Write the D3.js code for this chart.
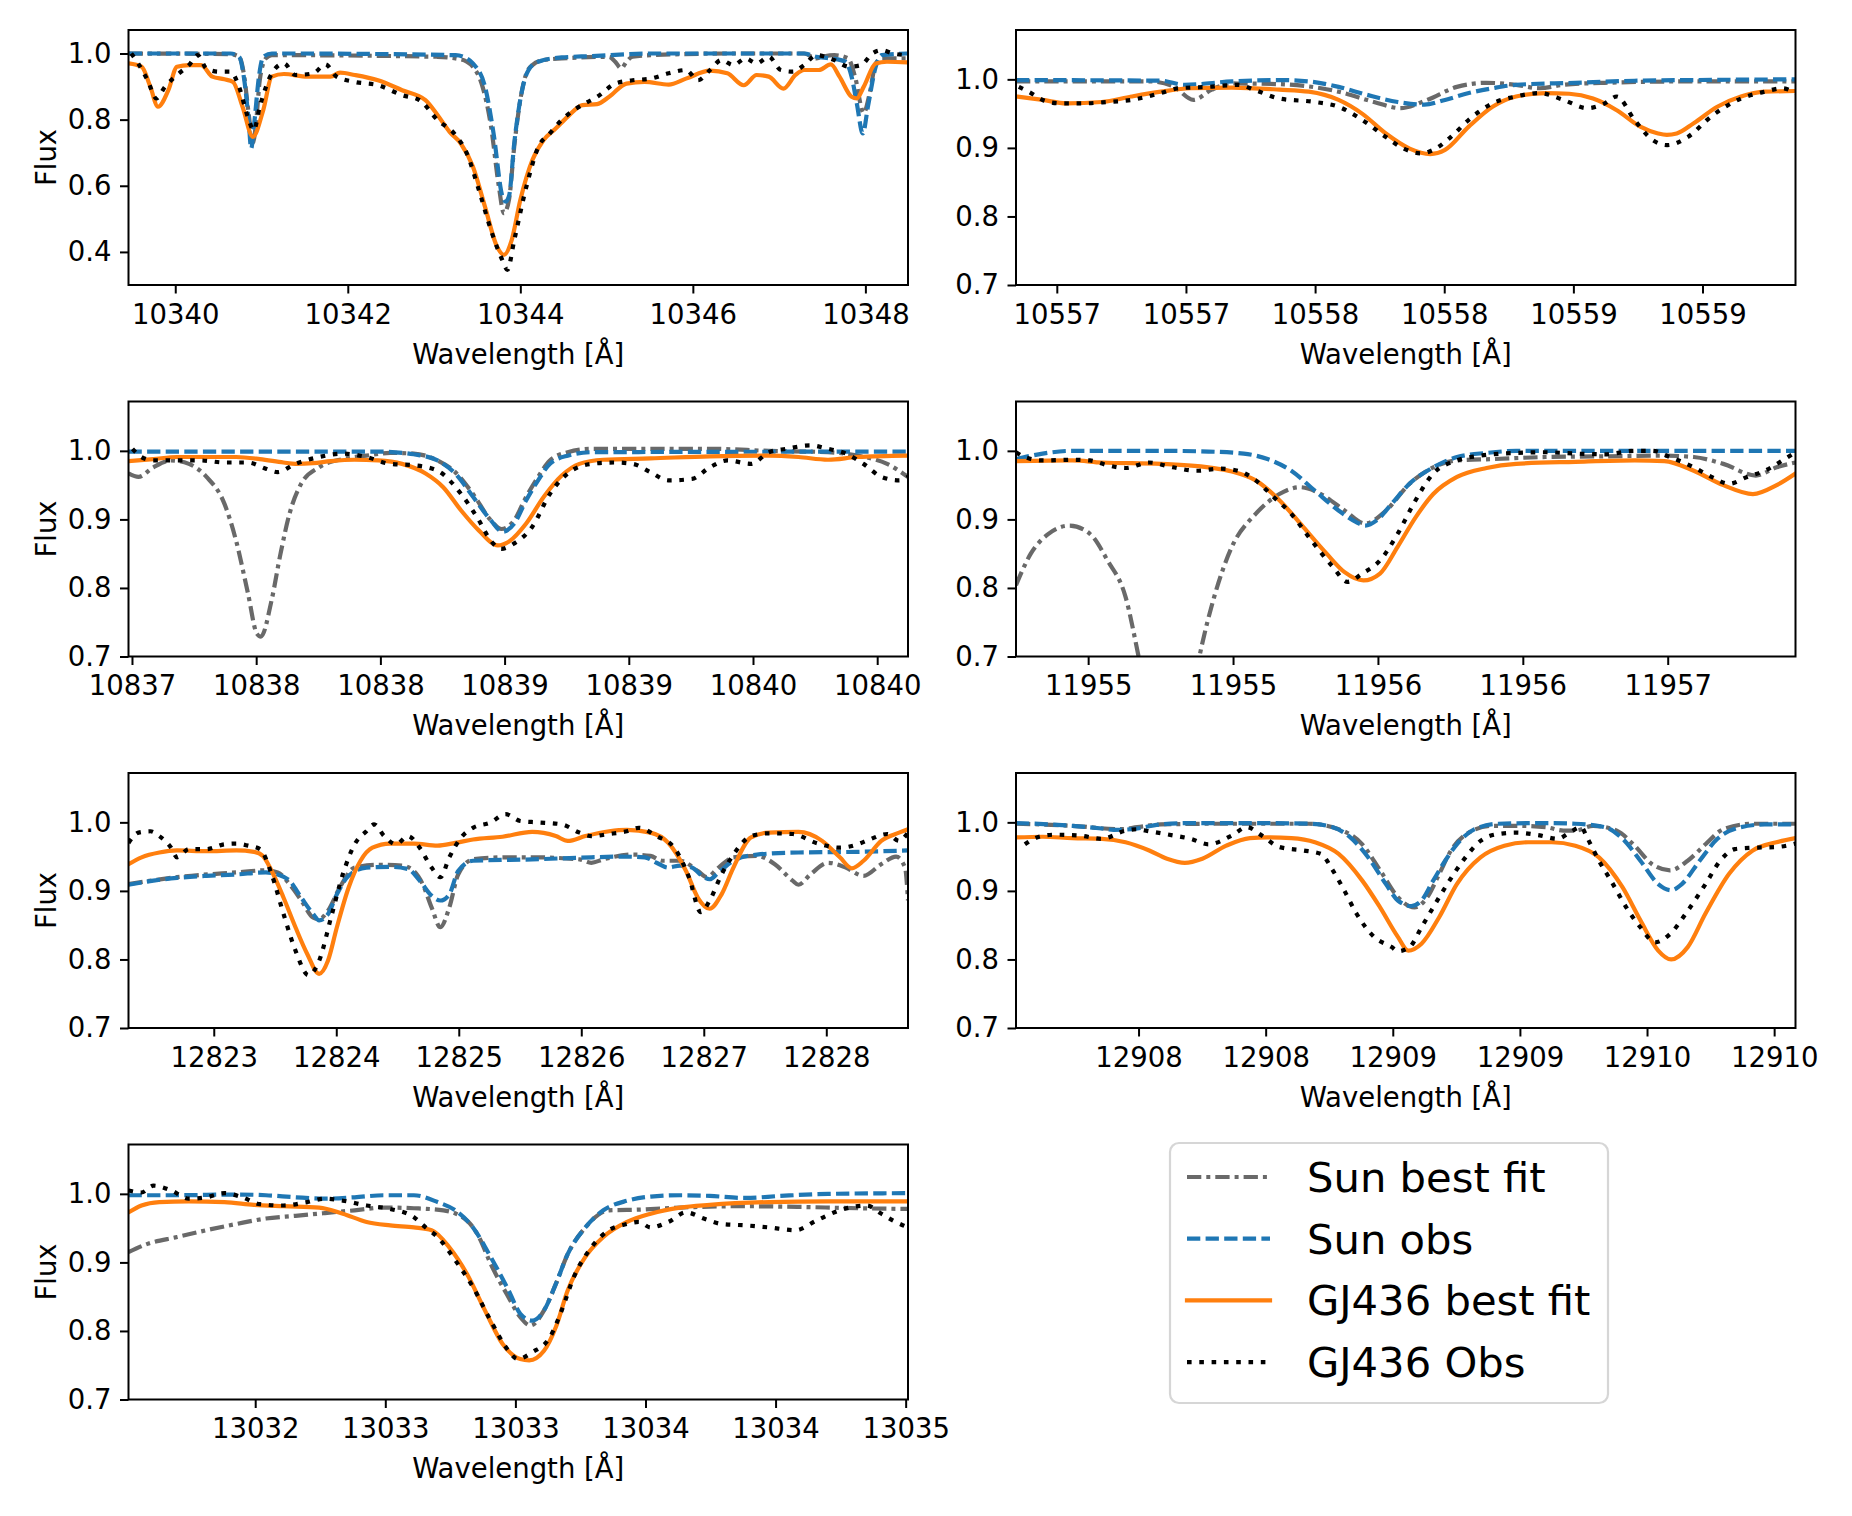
<!DOCTYPE html>
<html>
<head>
<meta charset="utf-8">
<style>
  body { margin: 0; background: #fff; }
  svg text { font-family: "DejaVu Sans", sans-serif; fill: #000; }
  .axis path { display: none; }
  .axis line { stroke: #000; stroke-width: 2; }
  .axis text { font-size: 27.5px; }
</style>
</head>
<body>
<svg id="chart" width="1852" height="1516"></svg>
<script src="https://cdnjs.cloudflare.com/ajax/libs/d3/7.8.5/d3.min.js"></script>
<script>

// ---- data: [wavelength (A), normalised flux] ----

// panel 1 : 10339 - 10348 A
var p1SunFit = [[10339.46,1.0],[10340.64,0.998],[10340.74,0.99],[10340.80,0.93],[10340.85,0.82],[10340.90,0.73],[10340.94,0.80],[10340.98,0.92],[10341.05,0.985],[10341.12,0.995],[10343.04,0.99],[10343.25,0.985],[10343.38,0.975],[10343.45,0.96],[10343.55,0.91],[10343.66,0.78],[10343.75,0.60],[10343.81,0.517],[10343.87,0.56],[10343.93,0.72],[10344.00,0.86],[10344.07,0.94],[10344.14,0.965],[10344.27,0.98],[10344.48,0.985],[10345.03,0.99],[10345.10,0.975],[10345.17,0.955],[10345.23,0.975],[10345.30,0.99],[10345.51,0.995],[10346.5,1.0],[10347.29,1.0],[10347.43,0.985],[10347.50,0.99],[10347.64,0.995],[10347.80,0.985],[10347.88,0.93],[10347.98,0.82],[10348.05,0.88],[10348.12,0.97],[10348.19,0.985],[10348.49,0.985]];
var p1SunObs = [[10339.46,1.0],[10340.64,1.0],[10340.74,0.99],[10340.80,0.92],[10340.85,0.80],[10340.88,0.713],[10340.92,0.80],[10340.97,0.93],[10341.02,0.99],[10341.12,1.0],[10343.25,0.995],[10343.38,0.985],[10343.45,0.97],[10343.59,0.90],[10343.69,0.758],[10343.79,0.57],[10343.83,0.552],[10343.87,0.57],[10343.93,0.73],[10344.03,0.90],[10344.14,0.965],[10344.27,0.98],[10344.48,0.988],[10344.82,0.992],[10345.51,1.0],[10347.29,1.0],[10347.43,0.99],[10347.60,0.985],[10347.77,0.975],[10347.84,0.93],[10347.90,0.85],[10347.97,0.758],[10348.03,0.84],[10348.12,0.96],[10348.19,0.995],[10348.49,1.0]];
var p1GjFit = [[10339.46,0.97],[10339.61,0.96],[10339.71,0.90],[10339.80,0.839],[10339.92,0.889],[10340.02,0.96],[10340.16,0.965],[10340.30,0.965],[10340.43,0.93],[10340.57,0.922],[10340.67,0.914],[10340.78,0.839],[10340.90,0.748],[10341.02,0.829],[10341.12,0.93],[10341.26,0.938],[10341.53,0.93],[10341.80,0.93],[10341.91,0.942],[10342.08,0.935],[10342.35,0.919],[10342.63,0.889],[10342.90,0.859],[10343.04,0.814],[10343.18,0.763],[10343.31,0.728],[10343.45,0.658],[10343.59,0.537],[10343.73,0.416],[10343.81,0.391],[10343.90,0.436],[10344.00,0.557],[10344.14,0.678],[10344.27,0.738],[10344.41,0.773],[10344.55,0.809],[10344.72,0.844],[10344.89,0.847],[10345.03,0.869],[10345.23,0.909],[10345.44,0.914],[10345.72,0.906],[10345.92,0.924],[10346.20,0.948],[10346.40,0.94],[10346.59,0.904],[10346.74,0.935],[10346.88,0.93],[10347.05,0.894],[10347.19,0.935],[10347.29,0.95],[10347.46,0.95],[10347.60,0.967],[10347.70,0.93],[10347.84,0.869],[10347.90,0.864],[10347.98,0.899],[10348.12,0.97],[10348.25,0.975],[10348.49,0.973]];
var p1GjObs = [[10339.49,1.0],[10339.57,0.97],[10339.68,0.919],[10339.78,0.864],[10339.88,0.899],[10340.02,0.935],[10340.16,0.965],[10340.26,0.995],[10340.36,0.955],[10340.50,0.945],[10340.64,0.945],[10340.74,0.899],[10340.84,0.809],[10340.91,0.768],[10340.98,0.839],[10341.12,0.94],[10341.26,0.97],[10341.39,0.935],[10341.60,0.94],[10341.74,0.967],[10341.87,0.93],[10342.08,0.914],[10342.35,0.904],[10342.63,0.874],[10342.83,0.859],[10343.04,0.799],[10343.25,0.753],[10343.38,0.698],[10343.52,0.587],[10343.66,0.466],[10343.79,0.376],[10343.85,0.346],[10343.93,0.436],[10344.07,0.597],[10344.21,0.718],[10344.34,0.758],[10344.48,0.799],[10344.62,0.829],[10344.75,0.849],[10344.89,0.869],[10345.10,0.909],[10345.30,0.919],[10345.51,0.924],[10345.72,0.94],[10345.92,0.95],[10346.06,0.919],[10346.20,0.95],[10346.33,0.98],[10346.47,0.965],[10346.61,0.985],[10346.74,0.97],[10346.88,0.99],[10347.02,0.95],[10347.16,0.945],[10347.29,0.965],[10347.43,0.995],[10347.64,0.98],[10347.81,0.96],[10347.95,0.965],[10348.08,1.0],[10348.19,1.01],[10348.32,1.0],[10348.49,0.995]];

// panel 2 : 10556 - 10559 A
var p2SunFit = [[10556.342,0.997],[10556.857,0.997],[10556.95,0.99],[10557.029,0.970],[10557.10,0.985],[10557.178,0.994],[10557.362,0.993],[10557.591,0.982],[10557.728,0.967],[10557.831,0.958],[10557.934,0.970],[10558.049,0.989],[10558.164,0.995],[10558.278,0.992],[10558.370,0.987],[10558.462,0.992],[10558.622,0.995],[10558.966,0.997],[10559.36,0.997]];
var p2SunObs = [[10556.342,0.999],[10556.903,0.998],[10556.995,0.992],[10557.178,0.997],[10557.362,0.999],[10557.476,0.997],[10557.591,0.989],[10557.705,0.977],[10557.820,0.967],[10557.923,0.963],[10558.003,0.970],[10558.095,0.980],[10558.187,0.987],[10558.278,0.992],[10558.507,0.995],[10558.736,0.998],[10558.966,0.999],[10559.36,1.0]];
var p2GjFit = [[10556.342,0.975],[10556.445,0.970],[10556.537,0.965],[10556.674,0.967],[10556.789,0.975],[10556.903,0.982],[10557.018,0.987],[10557.178,0.988],[10557.362,0.985],[10557.476,0.982],[10557.591,0.970],[10557.682,0.950],[10557.774,0.921],[10557.866,0.899],[10557.946,0.891],[10558.003,0.897],[10558.095,0.931],[10558.187,0.960],[10558.278,0.975],[10558.393,0.980],[10558.484,0.979],[10558.576,0.972],[10558.668,0.955],[10558.759,0.931],[10558.828,0.921],[10558.862,0.919],[10558.900,0.921],[10558.966,0.936],[10559.057,0.960],[10559.149,0.975],[10559.241,0.982],[10559.36,0.983]];
var p2GjObs = [[10556.353,0.989],[10556.40,0.980],[10556.445,0.970],[10556.514,0.965],[10556.605,0.965],[10556.697,0.967],[10556.789,0.970],[10556.903,0.980],[10556.972,0.987],[10557.087,0.989],[10557.201,0.992],[10557.270,0.984],[10557.362,0.972],[10557.499,0.967],[10557.591,0.960],[10557.682,0.941],[10557.774,0.916],[10557.843,0.899],[10557.912,0.892],[10557.957,0.897],[10558.026,0.916],[10558.095,0.941],[10558.187,0.965],[10558.278,0.975],[10558.370,0.980],[10558.462,0.970],[10558.553,0.958],[10558.622,0.965],[10558.668,0.975],[10558.736,0.941],[10558.805,0.912],[10558.863,0.904],[10558.943,0.916],[10559.034,0.946],[10559.149,0.972],[10559.241,0.982],[10559.309,0.987],[10559.36,0.980]];

// panel 3 : 10837 - 10840 A
var p3SunFit = [[10836.986,0.967],[10837.026,0.962],[10837.086,0.976],[10837.157,0.986],[10837.229,0.981],[10837.300,0.962],[10837.372,0.923],[10837.419,0.869],[10837.467,0.792],[10837.503,0.733],[10837.519,0.729],[10837.562,0.782],[10837.598,0.850],[10837.634,0.908],[10837.681,0.952],[10837.753,0.976],[10837.848,0.988],[10837.944,0.993],[10838.039,0.997],[10838.134,0.996],[10838.230,0.986],[10838.301,0.969],[10838.373,0.937],[10838.444,0.899],[10838.487,0.886],[10838.539,0.899],[10838.587,0.933],[10838.635,0.962],[10838.682,0.986],[10838.754,0.998],[10838.849,1.003],[10839.087,1.003],[10839.326,1.003],[10839.564,1.000],[10839.802,0.998],[10839.921,0.993],[10840.040,0.981],[10840.124,0.962]];
var p3SunObs = [[10836.986,0.999],[10837.991,0.999],[10838.134,0.995],[10838.230,0.986],[10838.301,0.967],[10838.373,0.933],[10838.444,0.899],[10838.492,0.882],[10838.539,0.894],[10838.587,0.928],[10838.635,0.957],[10838.682,0.981],[10838.754,0.993],[10838.849,0.998],[10840.124,0.999]];
var p3GjFit = [[10836.986,0.985],[10837.086,0.988],[10837.181,0.991],[10837.419,0.991],[10837.515,0.988],[10837.610,0.983],[10837.658,0.981],[10837.729,0.982],[10837.801,0.985],[10837.896,0.987],[10837.991,0.986],[10838.087,0.981],[10838.182,0.967],[10838.253,0.947],[10838.325,0.913],[10838.396,0.884],[10838.473,0.862],[10838.515,0.867],[10838.587,0.894],[10838.658,0.933],[10838.730,0.964],[10838.801,0.981],[10838.897,0.987],[10839.087,0.989],[10839.326,0.992],[10839.564,0.993],[10839.683,0.991],[10839.802,0.987],[10839.921,0.991],[10840.124,0.993]];
var p3GjObs = [[10837.002,1.003],[10837.038,0.991],[10837.086,0.986],[10837.181,0.986],[10837.276,0.986],[10837.372,0.983],[10837.467,0.983],[10837.539,0.974],[10837.586,0.969],[10837.658,0.981],[10837.753,0.991],[10837.848,0.996],[10837.944,0.991],[10838.039,0.981],[10838.134,0.979],[10838.230,0.971],[10838.325,0.937],[10838.396,0.899],[10838.444,0.869],[10838.487,0.857],[10838.539,0.865],[10838.611,0.889],[10838.682,0.937],[10838.754,0.967],[10838.849,0.981],[10838.944,0.983],[10839.016,0.981],[10839.087,0.969],[10839.159,0.957],[10839.254,0.959],[10839.326,0.976],[10839.397,0.986],[10839.492,0.981],[10839.564,0.998],[10839.635,1.003],[10839.731,1.008],[10839.802,1.003],[10839.874,0.996],[10839.945,0.981],[10840.017,0.962],[10840.088,0.957],[10840.124,0.962]];

// panel 4 : 11954 - 11957 A
var p4SunFit = [[11954.251,0.804],[11954.302,0.850],[11954.363,0.879],[11954.435,0.891],[11954.506,0.879],[11954.567,0.840],[11954.629,0.787],[11954.674,0.700],[11954.72,0.60],[11954.78,0.52],[11954.84,0.60],[11954.884,0.700],[11954.935,0.787],[11954.996,0.860],[11955.078,0.908],[11955.160,0.937],[11955.231,0.947],[11955.303,0.937],[11955.385,0.913],[11955.456,0.894],[11955.528,0.913],[11955.609,0.952],[11955.691,0.976],[11955.773,0.986],[11955.895,0.988],[11956.079,0.991],[11956.283,0.992],[11956.488,0.993],[11956.590,0.991],[11956.692,0.981],[11956.804,0.964],[11956.876,0.976],[11956.941,0.983]];
var p4SunObs = [[11954.251,0.988],[11954.343,0.996],[11954.445,1.0],[11954.547,1.0],[11954.751,1.0],[11954.915,0.999],[11955.037,0.996],[11955.119,0.988],[11955.201,0.971],[11955.282,0.942],[11955.364,0.913],[11955.425,0.896],[11955.456,0.891],[11955.497,0.899],[11955.548,0.923],[11955.609,0.952],[11955.691,0.976],[11955.773,0.991],[11955.875,0.997],[11955.977,1.0],[11956.941,1.0]];
var p4GjFit = [[11954.251,0.985],[11954.445,0.986],[11954.547,0.983],[11954.751,0.981],[11954.915,0.976],[11954.996,0.970],[11955.078,0.957],[11955.160,0.928],[11955.242,0.889],[11955.323,0.850],[11955.385,0.823],[11955.450,0.811],[11955.507,0.821],[11955.568,0.860],[11955.630,0.903],[11955.691,0.937],[11955.773,0.962],[11955.875,0.975],[11955.977,0.981],[11956.181,0.984],[11956.386,0.986],[11956.488,0.985],[11956.590,0.971],[11956.692,0.950],[11956.794,0.937],[11956.876,0.950],[11956.941,0.967]];
var p4GjObs = [[11954.251,0.998],[11954.281,0.991],[11954.343,0.986],[11954.445,0.987],[11954.506,0.986],[11954.567,0.979],[11954.629,0.975],[11954.710,0.983],[11954.792,0.976],[11954.874,0.971],[11954.956,0.974],[11955.017,0.971],[11955.078,0.957],[11955.139,0.933],[11955.201,0.908],[11955.262,0.874],[11955.344,0.831],[11955.395,0.809],[11955.446,0.821],[11955.507,0.840],[11955.568,0.879],[11955.630,0.928],[11955.691,0.967],[11955.773,0.986],[11955.854,0.993],[11955.977,0.997],[11956.079,0.998],[11956.181,0.996],[11956.283,0.995],[11956.386,1.0],[11956.447,1.0],[11956.508,0.991],[11956.590,0.976],[11956.651,0.962],[11956.712,0.952],[11956.774,0.962],[11956.835,0.971],[11956.896,0.986],[11956.941,0.998]];

// panel 5 : 12822 - 12829 A
var p5SunFit = [[12822.304,0.910],[12822.700,0.920],[12823.184,0.927],[12823.425,0.930],[12823.522,0.927],[12823.618,0.910],[12823.715,0.886],[12823.812,0.861],[12823.860,0.859],[12823.932,0.871],[12824.029,0.905],[12824.150,0.934],[12824.343,0.938],[12824.536,0.937],[12824.633,0.929],[12824.705,0.910],[12824.778,0.876],[12824.850,0.847],[12824.923,0.876],[12824.995,0.924],[12825.116,0.946],[12825.357,0.949],[12825.599,0.949],[12825.986,0.946],[12826.082,0.941],[12826.179,0.946],[12826.420,0.953],[12826.565,0.951],[12826.662,0.944],[12826.807,0.944],[12826.952,0.929],[12827.024,0.920],[12827.121,0.934],[12827.242,0.949],[12827.435,0.951],[12827.580,0.939],[12827.725,0.915],[12827.773,0.909],[12827.870,0.924],[12828.014,0.941],[12828.159,0.934],[12828.304,0.922],[12828.449,0.939],[12828.570,0.950],[12828.643,0.934],[12828.667,0.886]];
var p5SunObs = [[12822.304,0.909],[12822.507,0.915],[12822.700,0.919],[12822.942,0.922],[12823.184,0.924],[12823.425,0.927],[12823.522,0.924],[12823.618,0.915],[12823.715,0.890],[12823.812,0.866],[12823.860,0.857],[12823.932,0.866],[12824.005,0.895],[12824.101,0.922],[12824.246,0.934],[12824.440,0.935],[12824.585,0.932],[12824.681,0.915],[12824.778,0.893],[12824.850,0.886],[12824.923,0.895],[12824.995,0.929],[12825.116,0.944],[12825.599,0.946],[12826.082,0.949],[12826.324,0.950],[12826.517,0.949],[12826.614,0.941],[12826.710,0.934],[12826.807,0.937],[12826.903,0.934],[12827.000,0.920],[12827.048,0.917],[12827.121,0.927],[12827.242,0.944],[12827.435,0.953],[12827.773,0.956],[12828.256,0.957],[12828.667,0.959]];
var p5GjFit = [[12822.304,0.939],[12822.411,0.949],[12822.556,0.956],[12822.700,0.959],[12822.942,0.958],[12823.184,0.959],[12823.329,0.957],[12823.401,0.951],[12823.473,0.929],[12823.570,0.890],[12823.667,0.847],[12823.763,0.808],[12823.860,0.779],[12823.932,0.798],[12824.005,0.847],[12824.101,0.905],[12824.198,0.944],[12824.295,0.963],[12824.440,0.969],[12824.633,0.969],[12824.826,0.966],[12824.971,0.970],[12825.116,0.975],[12825.357,0.979],[12825.599,0.986],[12825.792,0.980],[12825.889,0.973],[12826.034,0.980],[12826.227,0.987],[12826.372,0.989],[12826.565,0.985],[12826.710,0.970],[12826.855,0.929],[12826.952,0.890],[12827.048,0.874],[12827.145,0.895],[12827.242,0.934],[12827.386,0.978],[12827.531,0.985],[12827.773,0.986],[12827.966,0.973],[12828.111,0.949],[12828.208,0.933],[12828.304,0.944],[12828.449,0.973],[12828.594,0.985],[12828.667,0.990]];
var p5GjObs = [[12822.304,0.970],[12822.386,0.985],[12822.483,0.987],[12822.556,0.980],[12822.652,0.963],[12822.700,0.949],[12822.797,0.961],[12822.942,0.961],[12823.087,0.968],[12823.184,0.969],[12823.280,0.966],[12823.377,0.961],[12823.473,0.924],[12823.570,0.866],[12823.667,0.813],[12823.773,0.777],[12823.860,0.798],[12823.957,0.861],[12824.053,0.924],[12824.150,0.968],[12824.246,0.987],[12824.309,0.997],[12824.391,0.980],[12824.488,0.968],[12824.585,0.980],[12824.681,0.963],[12824.778,0.934],[12824.850,0.920],[12824.923,0.949],[12825.019,0.978],[12825.116,0.992],[12825.261,1.0],[12825.382,1.012],[12825.502,1.002],[12825.647,1.0],[12825.841,0.997],[12825.986,0.985],[12826.082,0.980],[12826.227,0.983],[12826.372,0.987],[12826.469,0.992],[12826.614,0.980],[12826.758,0.963],[12826.879,0.920],[12826.976,0.869],[12827.048,0.886],[12827.145,0.924],[12827.242,0.953],[12827.386,0.980],[12827.531,0.984],[12827.725,0.983],[12827.918,0.970],[12828.111,0.963],[12828.256,0.968],[12828.353,0.975],[12828.498,0.983],[12828.594,0.973],[12828.667,0.985]];

// panel 6 : 12907 - 12910 A
var p6SunFit = [[12907.018,0.998],[12907.239,0.995],[12907.426,0.990],[12907.495,0.993],[12907.588,0.997],[12907.821,0.998],[12908.170,0.998],[12908.287,0.990],[12908.380,0.968],[12908.450,0.930],[12908.520,0.891],[12908.585,0.876],[12908.636,0.891],[12908.683,0.925],[12908.729,0.959],[12908.799,0.985],[12908.892,0.995],[12908.985,0.995],[12909.101,0.993],[12909.171,0.988],[12909.218,0.988],[12909.288,0.995],[12909.381,0.988],[12909.451,0.966],[12909.520,0.939],[12909.590,0.930],[12909.660,0.944],[12909.730,0.968],[12909.800,0.990],[12909.916,0.998],[12910.084,0.998]];
var p6SunObs = [[12907.018,0.999],[12907.239,0.995],[12907.356,0.991],[12907.402,0.989],[12907.472,0.990],[12907.588,0.997],[12907.705,0.999],[12907.938,0.999],[12908.170,0.998],[12908.264,0.993],[12908.333,0.978],[12908.403,0.949],[12908.473,0.910],[12908.520,0.886],[12908.573,0.878],[12908.613,0.886],[12908.659,0.915],[12908.706,0.944],[12908.752,0.968],[12908.822,0.990],[12908.915,0.998],[12909.101,0.999],[12909.218,0.998],[12909.334,0.993],[12909.404,0.976],[12909.474,0.944],[12909.544,0.910],[12909.595,0.901],[12909.637,0.910],[12909.707,0.944],[12909.777,0.976],[12909.870,0.993],[12909.963,0.997],[12910.084,0.997]];
var p6GjFit = [[12907.018,0.978],[12907.123,0.979],[12907.239,0.977],[12907.356,0.976],[12907.449,0.971],[12907.542,0.959],[12907.612,0.947],[12907.682,0.941],[12907.751,0.947],[12907.845,0.966],[12907.938,0.977],[12908.007,0.978],[12908.101,0.977],[12908.194,0.971],[12908.287,0.954],[12908.380,0.915],[12908.450,0.876],[12908.520,0.833],[12908.561,0.813],[12908.613,0.823],[12908.683,0.862],[12908.752,0.910],[12908.845,0.949],[12908.939,0.966],[12909.032,0.971],[12909.125,0.971],[12909.218,0.966],[12909.311,0.949],[12909.404,0.905],[12909.474,0.857],[12909.544,0.813],[12909.595,0.800],[12909.660,0.818],[12909.730,0.867],[12909.823,0.925],[12909.916,0.959],[12910.009,0.971],[12910.084,0.977]];
var p6GjObs = [[12907.053,0.968],[12907.100,0.978],[12907.169,0.982],[12907.263,0.981],[12907.356,0.976],[12907.449,0.988],[12907.495,0.990],[12907.542,0.987],[12907.635,0.981],[12907.705,0.976],[12907.775,0.968],[12907.868,0.981],[12907.926,0.993],[12907.984,0.981],[12908.054,0.964],[12908.147,0.959],[12908.217,0.954],[12908.264,0.930],[12908.310,0.900],[12908.357,0.867],[12908.426,0.833],[12908.496,0.818],[12908.520,0.812],[12908.566,0.818],[12908.613,0.847],[12908.659,0.876],[12908.706,0.905],[12908.776,0.944],[12908.845,0.973],[12908.915,0.983],[12908.985,0.985],[12909.078,0.981],[12909.148,0.976],[12909.195,0.985],[12909.241,0.993],[12909.264,0.978],[12909.311,0.944],[12909.358,0.915],[12909.427,0.871],[12909.474,0.847],[12909.532,0.825],[12909.590,0.837],[12909.660,0.871],[12909.730,0.910],[12909.788,0.944],[12909.846,0.961],[12909.916,0.963],[12910.009,0.964],[12910.084,0.969]];

// panel 7 : 13031 - 13035 A
var p7SunFit = [[13031.513,0.915],[13031.586,0.927],[13031.700,0.937],[13031.813,0.947],[13031.927,0.956],[13032.041,0.964],[13032.155,0.968],[13032.268,0.972],[13032.382,0.976],[13032.496,0.980],[13032.610,0.979],[13032.723,0.976],[13032.814,0.961],[13032.860,0.937],[13032.905,0.898],[13032.974,0.849],[13033.019,0.820],[13033.058,0.808],[13033.110,0.830],[13033.156,0.869],[13033.201,0.912],[13033.269,0.951],[13033.360,0.976],[13033.474,0.977],[13033.633,0.980],[13033.861,0.982],[13034.088,0.981],[13034.316,0.979],[13034.509,0.978]];
var p7SunObs = [[13031.513,0.998],[13031.700,0.998],[13031.927,0.999],[13032.041,0.998],[13032.155,0.995],[13032.268,0.993],[13032.382,0.995],[13032.496,0.998],[13032.610,0.998],[13032.701,0.988],[13032.769,0.976],[13032.837,0.951],[13032.905,0.908],[13032.974,0.859],[13033.019,0.825],[13033.065,0.815],[13033.110,0.830],[13033.156,0.869],[13033.201,0.912],[13033.269,0.951],[13033.338,0.976],[13033.429,0.990],[13033.520,0.996],[13033.633,0.998],[13033.747,0.997],[13033.884,0.994],[13034.020,0.997],[13034.202,1.0],[13034.509,1.001]];
var p7GjFit = [[13031.513,0.973],[13031.563,0.983],[13031.631,0.988],[13031.745,0.989],[13031.882,0.988],[13031.995,0.984],[13032.109,0.982],[13032.246,0.980],[13032.337,0.971],[13032.428,0.959],[13032.519,0.954],[13032.610,0.951],[13032.678,0.947],[13032.746,0.922],[13032.814,0.883],[13032.883,0.830],[13032.951,0.781],[13033.019,0.759],[13033.053,0.757],[13033.110,0.771],[13033.156,0.806],[13033.201,0.859],[13033.269,0.908],[13033.338,0.937],[13033.429,0.959],[13033.520,0.971],[13033.633,0.980],[13033.747,0.984],[13033.975,0.988],[13034.202,0.989],[13034.509,0.989]];
var p7GjObs = [[13031.513,1.005],[13031.563,1.002],[13031.609,1.012],[13031.677,1.005],[13031.745,0.993],[13031.813,0.995],[13031.882,1.001],[13031.950,0.995],[13032.018,0.985],[13032.109,0.983],[13032.200,0.988],[13032.268,0.993],[13032.337,0.990],[13032.428,0.983],[13032.519,0.978],[13032.610,0.966],[13032.655,0.951],[13032.701,0.937],[13032.769,0.903],[13032.837,0.864],[13032.905,0.815],[13032.974,0.771],[13033.008,0.759],[13033.065,0.769],[13033.133,0.791],[13033.178,0.830],[13033.224,0.878],[13033.292,0.922],[13033.360,0.947],[13033.429,0.956],[13033.474,0.959],[13033.520,0.951],[13033.588,0.959],[13033.656,0.973],[13033.724,0.964],[13033.793,0.956],[13033.884,0.954],[13033.975,0.951],[13034.077,0.947],[13034.157,0.961],[13034.247,0.976],[13034.350,0.983],[13034.407,0.971],[13034.452,0.961],[13034.509,0.951]];

// axis ranges and ticks
var xDomains = [[10339.458,10348.494],[10556.342,10559.36],[10836.986,10840.124],[11954.251,11956.941],[12822.304,12828.667],[12907.018,12910.084],[13031.513,13034.509]];
var xTickValues = [
  [10340,10342,10344,10346,10348],
  [10556.5,10557,10557.5,10558,10558.5,10559],
  [10837,10837.5,10838,10838.5,10839,10839.5,10840],
  [11954.5,11955,11955.5,11956,11956.5],
  [12823,12824,12825,12826,12827,12828],
  [12907.5,12908,12908.5,12909,12909.5,12910],
  [13032,13032.5,13033,13033.5,13034,13034.5]
];
var xTickLabels = [
  ["10340","10342","10344","10346","10348"],
  ["10557","10557","10558","10558","10559","10559"],
  ["10837","10838","10838","10839","10839","10840","10840"],
  ["11955","11955","11956","11956","11957"],
  ["12823","12824","12825","12826","12827","12828"],
  ["12908","12908","12909","12909","12910","12910"],
  ["13032","13033","13033","13034","13034","13035"]
];
var yDomains = [[0.300,1.071],[0.7,1.072],[0.7,1.072],[0.7,1.072],[0.7,1.072],[0.7,1.072],[0.7,1.072]];
var yTickValues = [[0.4,0.6,0.8,1.0],[0.7,0.8,0.9,1.0],[0.7,0.8,0.9,1.0],[0.7,0.8,0.9,1.0],[0.7,0.8,0.9,1.0],[0.7,0.8,0.9,1.0],[0.7,0.8,0.9,1.0]];
var seriesNames = ["Sun best fit", "Sun obs", "GJ436 best fit", "GJ436 Obs"];

var panelSeries = [
  [p1SunFit, p1SunObs, p1GjFit, p1GjObs],
  [p2SunFit, p2SunObs, p2GjFit, p2GjObs],
  [p3SunFit, p3SunObs, p3GjFit, p3GjObs],
  [p4SunFit, p4SunObs, p4GjFit, p4GjObs],
  [p5SunFit, p5SunObs, p5GjFit, p5GjObs],
  [p6SunFit, p6SunObs, p6GjFit, p6GjObs],
  [p7SunFit, p7SunObs, p7GjFit, p7GjObs]
];

// line styles (matplotlib look)
var styles = [
  {color: "#696969", dash: "14.3,5,4,5"},
  {color: "#1f77b4", dash: "13.3,5.3"},
  {color: "#ff7f0e", dash: null},
  {color: "#000000", dash: "4.6,7.7"}
];

var svg = d3.select("#chart");
svg.append("rect").attr("width", 1852).attr("height", 1516).attr("fill", "#fff");

var colLeft = [128.5, 1016],
    rowTop = [30, 401.5, 773, 1144.5],
    pw = 779.5,
    ph = 255;

panelSeries.forEach(function(series, i) {
  var col = i % 2, row = Math.floor(i / 2);
  var g = svg.append("g")
      .attr("transform", "translate(" + colLeft[col] + "," + rowTop[row] + ")");

  var x = d3.scaleLinear().domain(xDomains[i]).range([0, pw]);
  var y = d3.scaleLinear().domain(yDomains[i]).range([ph, 0]);

  g.append("clipPath").attr("id", "clip" + i)
    .append("rect").attr("width", pw).attr("height", ph);

  var line = d3.line()
      .x(function(d) { return x(d[0]); })
      .y(function(d) { return y(d[1]); })
      .curve(d3.curveMonotoneX);

  var lines = g.append("g").attr("clip-path", "url(#clip" + i + ")");
  series.forEach(function(s, k) {
    lines.append("path")
        .datum(s)
        .attr("d", line)
        .attr("fill", "none")
        .attr("stroke", styles[k].color)
        .attr("stroke-width", 4.2)
        .attr("stroke-linejoin", "round")
        .attr("stroke-linecap", styles[k].dash ? "butt" : "square")
        .attr("stroke-dasharray", styles[k].dash);
  });

  var labels = xTickLabels[i];
  g.append("g")
      .attr("class", "axis")
      .attr("transform", "translate(0," + ph + ")")
      .call(d3.axisBottom(x)
          .tickValues(xTickValues[i])
          .tickFormat(function(d, j) { return labels[j]; })
          .tickSize(8.5).tickPadding(10.5));

  g.append("g")
      .attr("class", "axis")
      .call(d3.axisLeft(y)
          .tickValues(yTickValues[i])
          .tickFormat(d3.format(".1f"))
          .tickSize(8.5).tickPadding(8.5));

  g.append("rect")
      .attr("width", pw).attr("height", ph)
      .attr("fill", "none").attr("stroke", "#000").attr("stroke-width", 2);

  g.append("text")
      .attr("x", pw / 2).attr("y", ph + 78.5)
      .attr("text-anchor", "middle")
      .style("font-size", "27.5px")
      .text("Wavelength [Å]");

  if (col === 0) {
    g.append("text")
        .attr("transform", "translate(" + (56 - colLeft[0]) + "," + (ph / 2) + ") rotate(-90)")
        .attr("text-anchor", "middle")
        .style("font-size", "27.5px")
        .text("Flux");
  }
});

// legend
var lg = svg.append("g").attr("transform", "translate(1170,1143)");
lg.append("rect")
    .attr("x", 0).attr("y", 0).attr("width", 438).attr("height", 260)
    .attr("rx", 9).attr("ry", 9)
    .attr("fill", "#fff").attr("fill-opacity", 0.8)
    .attr("stroke", "#d6d6d6").attr("stroke-width", 2.2);

seriesNames.forEach(function(name, k) {
  var cy = 34 + k * 61.7;
  lg.append("line")
      .attr("x1", 17).attr("x2", 100)
      .attr("y1", cy).attr("y2", cy)
      .attr("stroke", styles[k].color)
      .attr("stroke-width", 4.2)
      .attr("stroke-linecap", styles[k].dash ? "butt" : "square")
      .attr("stroke-dasharray", styles[k].dash);
  lg.append("text")
      .attr("x", 137).attr("y", cy + 15)
      .style("font-size", "41.7px")
      .text(name);
});

</script>
</body>
</html>
